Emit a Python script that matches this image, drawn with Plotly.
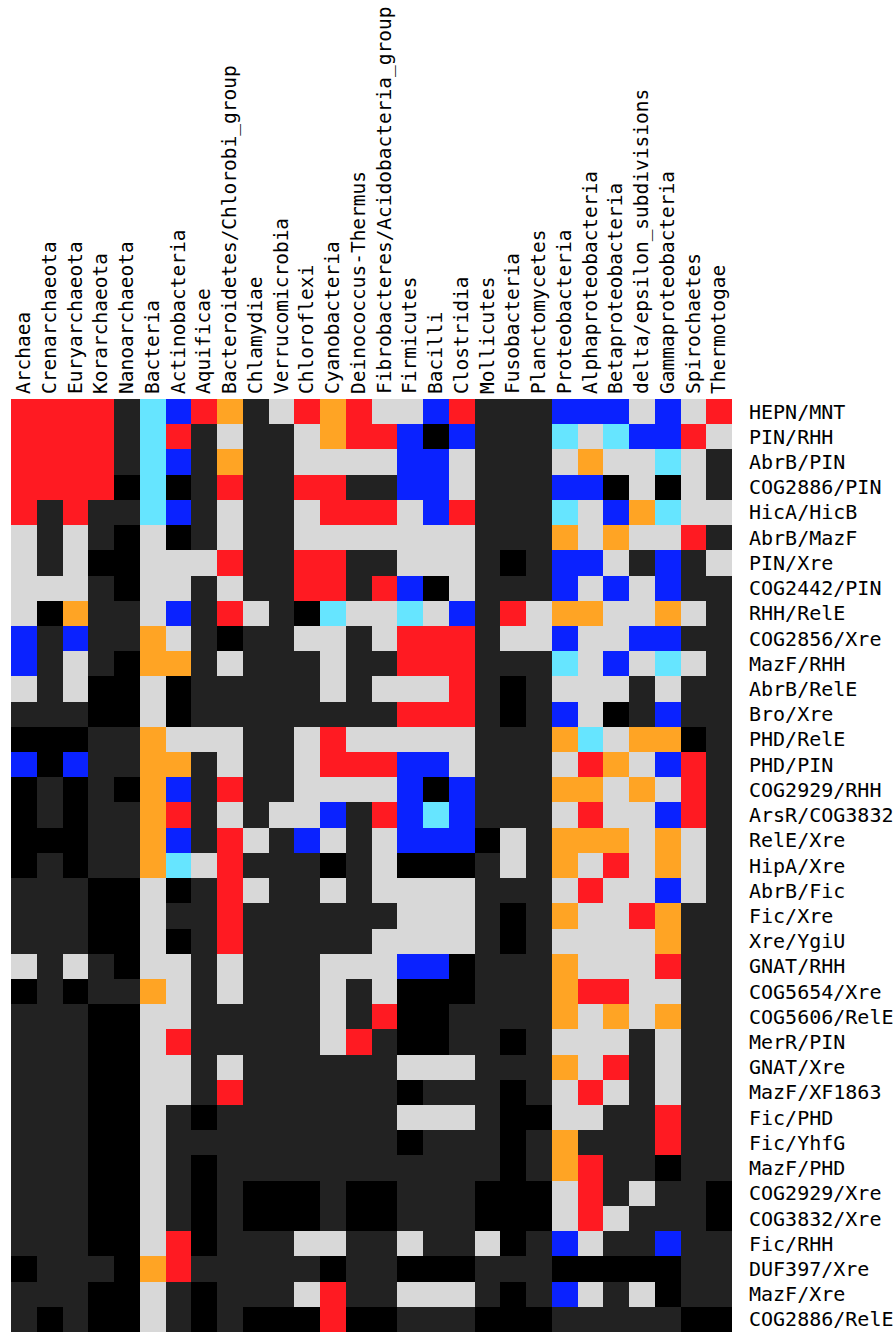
import plotly.graph_objects as go

columns = ["Archaea", "Crenarchaeota", "Euryarchaeota", "Korarchaeota", "Nanoarchaeota",
           "Bacteria", "Actinobacteria", "Aquificae", "Bacteroidetes/Chlorobi_group",
           "Chlamydiae", "Verrucomicrobia", "Chloroflexi", "Cyanobacteria",
           "Deinococcus-Thermus", "Fibrobacteres/Acidobacteria_group", "Firmicutes",
           "Bacilli", "Clostridia", "Mollicutes", "Fusobacteria", "Planctomycetes",
           "Proteobacteria", "Alphaproteobacteria", "Betaproteobacteria",
           "delta/epsilon_subdivisions", "Gammaproteobacteria", "Spirochaetes", "Thermotogae"]

rows = ["HEPN/MNT", "PIN/RHH", "AbrB/PIN", "COG2886/PIN", "HicA/HicB", "AbrB/MazF",
        "PIN/Xre", "COG2442/PIN", "RHH/RelE", "COG2856/Xre", "MazF/RHH", "AbrB/RelE",
        "Bro/Xre", "PHD/RelE", "PHD/PIN", "COG2929/RHH", "ArsR/COG3832", "RelE/Xre",
        "HipA/Xre", "AbrB/Fic", "Fic/Xre", "Xre/YgiU", "GNAT/RHH", "COG5654/Xre",
        "COG5606/RelE", "MerR/PIN", "GNAT/Xre", "MazF/XF1863", "Fic/PHD", "Fic/YhfG",
        "MazF/PHD", "COG2929/Xre", "COG3832/Xre", "Fic/RHH", "DUF397/Xre", "MazF/Xre",
        "COG2886/RelE"]

# cell categories per row (one letter per column):
# K = black, D = dark gray, L = light gray, O = orange, R = red, B = blue, C = cyan
cells = [
    "RRRRDCBRODLRORLLBRDDDBBBLBLR",
    "RRRRDCRDLDDLORRBKBDDDCLCBBRL",
    "RRRRDCBDODDLLLLBBLDDDLOLLCLD",
    "RRRRKCKDRDDRRDDBBLDDDBBKLKLD",
    "RDRDDCBDLDDLRRRLBRDDDCLBOCLL",
    "LDLDKLKDLDDLLLLLLLDDDOLOLLRD",
    "LDLKKLLLRDDRRDDLLLDKDBBLDBDL",
    "LLLDKLLDLDDRRDRBKLDDDBLBLBDD",
    "LKODDLBDRLDKCLLCLBDRLOOLLOLD",
    "BDBDDOLDKDDLLDLRRRDLLBLLBBDD",
    "BDLDKOODLDDDLDDRRRDDDCLBLCLD",
    "LDLKKLKDDDDDLDLLLRDKDLLLDLDD",
    "DDDKKLKDDDDDDDDRRRDKDBLKDBDD",
    "KKKDDOLLLDDLRLLLLLDDDOCLOOKD",
    "BKBDDOODLDDLRRRBBLDDDLROLBRD",
    "KDKDKOBDRDDLLLLBKBDDDOOLOLRD",
    "KDKDDORDLDLLBDRBCBDDDLRLLBRD",
    "KKKDDOBDRLDBLDLBBBKLDOOOLOLD",
    "KDKDDOCLRDDDKDLKKKDLDOLRLOLD",
    "DDDKKLKDRLDDLDLLLLDDDLRLLBLD",
    "DDDKKLDDRDDDDDDLLLDKDOLLRODD",
    "DDDKKLKDRDDDDDLLLLDKDLLLLODD",
    "LDLDKLLDLDDDLLLBBKDDDOLLLRDD",
    "KDKDDOLDLDDDLDLKKKDDDORRLLDD",
    "DDDKKLLDDDDDLDRKKDDDDOLOLODD",
    "DDDKKLRDDDDDLRDKKDDKDLLLDLDD",
    "DDDKKLLDLDDDDDDLLLDDDOLRDLDD",
    "DDDKKLLDRDDDDDDKDDDKDLRLDLDD",
    "DDDKKLDKDDDDDDDLLLDKKLLDDRDD",
    "DDDKKLDDDDDDDDDKDDDKDODDDRDD",
    "DDDKKLDKDDDDDDDDDDDKDORDDKDD",
    "DDDKKLDKDKKKDKKDDDKKKLRDLDDK",
    "DDDKKLDKDKKKDKKDDDKKKLRLDDDK",
    "DDDKKLRKDDDLLDDLDDLKDBLDDBDD",
    "KDDDKORDDDDDKDDKKKDDDKKKKKDD",
    "DDDKKLDKDDDLRDDLLLDKDBLDLKDD",
    "DKDKKLDKDKKKRKKDDDKKKDDDDDKK",
]

category_order = ["K", "D", "L", "O", "R", "B", "C"]
category_colors = ["#000000", "#222222", "#D8D8D8", "#FFA424", "#FF1A22", "#0A22FF", "#66E5FF"]

z = [[category_order.index(ch) for ch in row] for row in cells]

n = len(category_order)
colorscale = []
for i, col in enumerate(category_colors):
    colorscale.append([i / n, col])
    colorscale.append([(i + 1) / n, col])

fig = go.Figure(go.Heatmap(
    z=z, x=columns, y=rows,
    colorscale=colorscale, zmin=-0.5, zmax=n - 0.5,
    showscale=False, xgap=0, ygap=0,
    hoverinfo="x+y",
))

font_family = "DejaVu Sans Mono, monospace"
fig.update_layout(
    width=894, height=1339,
    margin=dict(l=11, r=162, t=399, b=7, autoexpand=False),
    paper_bgcolor="white", plot_bgcolor="white",
    font=dict(family=font_family, color="black"),
    xaxis=dict(side="top", tickangle=-90, tickfont=dict(size=19.5, family=font_family, color="black"),
               showgrid=False, zeroline=False, showline=False, ticks="", ticklabelstandoff=4,
               type="category", automargin=False),
    yaxis=dict(side="right", autorange="reversed", tickfont=dict(size=20, family=font_family, color="black"),
               showgrid=False, zeroline=False, showline=False, ticks="", ticklabelstandoff=16,
               type="category", automargin=False),
)

fig.write_html("out.html", config={"displayModeBar": False},
               post_script="document.body.style.margin='0';document.body.style.padding='0';")
